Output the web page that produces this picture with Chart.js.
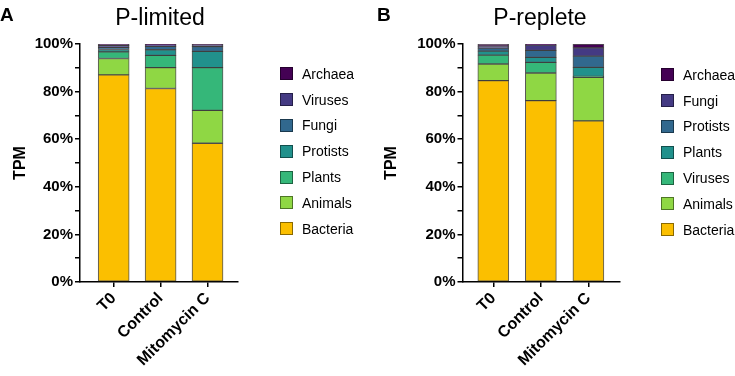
<!DOCTYPE html>
<html>
<head>
<meta charset="utf-8">
<script src="https://cdn.jsdelivr.net/npm/chart.js@4.4.1/dist/chart.umd.min.js"></script>
<style>
    html, body { margin: 0; padding: 0; background: #fff; }
    body { width: 735px; height: 376px; position: relative; overflow: hidden; font-family: "Liberation Sans", Arial, sans-serif; }
    .panel { position: absolute; top: 0; height: 376px; }
    .letter { position: absolute; font-weight: bold; font-size: 19px; color: #000; }
    .title { position: absolute; font-size: 23px; color: #000; transform: translateX(-50%); white-space: nowrap; }
    .legend { position: absolute; font-size: 14px; color: #000; }
    .legend div { height: 25.8px; display: flex; align-items: center; white-space: nowrap; }
    .legend span.box { width: 13px; height: 13px; border: 1px solid rgba(0,0,0,0.45); margin-right: 9px; box-sizing: border-box; }
</style>
</head>
<body>
<div class="panel" style="left:0;width:367px"><canvas id="chartA"></canvas></div>
<div class="panel" style="left:367px;width:368px"><canvas id="chartB"></canvas></div>
<div class="letter" style="left:0;top:4px">A</div>
<div class="letter" style="left:377px;top:4px">B</div>
<div class="title" style="left:160px;top:4px">P-limited</div>
<div class="title" style="left:540px;top:4px">P-replete</div>
<div class="legend" id="legendA" style="left:280px;top:61px"></div>
<div class="legend" id="legendB" style="left:661px;top:62px"></div>

<script>
"use strict";

/** DATA */

const categories = ['T0', 'Control', 'Mitomycin C'];
const yTickValues = [0, 20, 40, 60, 80, 100];

// stack order, bottom to top
const limitedTaxa = ['Bacteria', 'Animals', 'Plants', 'Protists', 'Fungi', 'Viruses', 'Archaea'];
const repleteTaxa = ['Bacteria', 'Animals', 'Viruses', 'Plants', 'Protists', 'Fungi', 'Archaea'];

// P-limited (%)
const limitedBacteria = [87.0, 81.3, 58.3];
const limitedAnimals  = [6.9, 8.8, 13.8];
const limitedPlants   = [2.8, 5.1, 18.0];
const limitedProtists = [1.0, 2.4, 6.8];
const limitedFungi    = [0.9, 1.4, 2.0];
const limitedViruses  = [0.8, 0.65, 0.7];
const limitedArchaea  = [0.6, 0.35, 0.4];

// P-replete (%)
const repleteBacteria = [84.6, 76.2, 67.7];
const repleteAnimals  = [7.0, 11.6, 18.3];
const repleteViruses  = [3.7, 4.5, 0.4];
const repletePlants   = [1.7, 2.1, 3.8];
const repleteProtists = [1.3, 2.9, 4.7];
const repleteFungi    = [0.8, 2.2, 3.5];
const repleteArchaea  = [0.9, 0.5, 1.6];

// colours by stack position, bottom to top
const stackColors = ['#fbbf00', '#8fd744', '#35b779', '#21918c', '#31688e', '#443a83', '#440154'];

const limitedSeries = [limitedBacteria, limitedAnimals, limitedPlants, limitedProtists, limitedFungi, limitedViruses, limitedArchaea];
const repleteSeries = [repleteBacteria, repleteAnimals, repleteViruses, repletePlants, repleteProtists, repleteFungi, repleteArchaea];


/** HELPERS */

const FONT = "'Liberation Sans', Arial, sans-serif";

const buildDatasets = (taxa, series) => taxa.map((name, i) => ({
    label: name,
    data: series[i].map((v, c) => ({ x: c, y: v })),
    backgroundColor: stackColors[i],
    borderColor: 'rgba(30,30,30,0.75)',
    borderWidth: 1,
    borderSkipped: false,
    barThickness: 31
}));

const buildLegend = (id, taxa) => {
    const el = document.getElementById(id);
    // legend lists top of the stack first
    taxa.map((name, i) => ({ name, color: stackColors[i] })).reverse().forEach(item => {
        const row = document.createElement('div');
        row.innerHTML = `<span class="box" style="background:${ item.color }"></span>${ item.name }`;
        el.appendChild(row);
    });
};

const makeChart = (canvasId, taxa, series, geo) => new Chart(document.getElementById(canvasId).getContext('2d'), {
    type: 'bar',
    data: { datasets: buildDatasets(taxa, series) },
    options: {
        responsive: true,
        maintainAspectRatio: false,
        animation: false,
        layout: {
            padding: { left: 0, right: geo.padRight, top: 44, bottom: 0 }
        },
        plugins: {
            legend: { display: false },
            tooltip: { enabled: false }
        },
        scales: {
            x: {
                type: 'linear',
                stacked: true,
                offset: false,
                min: geo.xMin,
                max: geo.xMax,
                afterFit: scale => { scale.height = 94; },
                afterBuildTicks: scale => { scale.ticks = categories.map((c, i) => ({ value: i })); },
                grid: { offset: false, drawOnChartArea: false, drawTicks: true, tickLength: 5, color: '#000', lineWidth: 1.5 },
                border: { display: true, color: '#000', width: 1.5 },
                ticks: {
                    autoSkip: false,
                    minRotation: 45,
                    maxRotation: 45,
                    padding: 2,
                    color: '#000',
                    font: { family: FONT, size: 16, weight: 'bold' },
                    callback: value => categories[value]
                }
            },
            y: {
                stacked: true,
                min: 0,
                max: 100,
                afterFit: scale => { scale.width = geo.yWidth; },
                grid: { drawOnChartArea: false, drawTicks: true, tickLength: 5, color: '#000', lineWidth: 1.5 },
                border: { display: true, color: '#000', width: 1.5 },
                ticks: {
                    stepSize: 10,
                    padding: 2,
                    color: '#000',
                    font: { family: FONT, size: 15, weight: 'bold' },
                    callback: value => yTickValues.includes(value) ? value + '%' : ''
                },
                title: {
                    display: true,
                    text: 'TPM',
                    color: '#000',
                    padding: { top: geo.titlePad, bottom: 0 },
                    font: { family: FONT, size: 16, weight: 'bold' }
                }
            }
        }
    }
});


/** INITIALIZE */

(() => {
    buildLegend('legendA', limitedTaxa);
    buildLegend('legendB', repleteTaxa);

    // Panel A: P-limited
    makeChart('chartA', limitedTaxa, limitedSeries, {
        yWidth: 80, padRight: 129, xMin: -0.718, xMax: 2.65, titlePad: 11
    });

    // Panel B: P-replete
    makeChart('chartB', repleteTaxa, repleteSeries, {
        yWidth: 95.5, padRight: 115.7, xMin: -0.648, xMax: 2.65, titlePad: 15
    });
})();
</script>
</body>
</html>
